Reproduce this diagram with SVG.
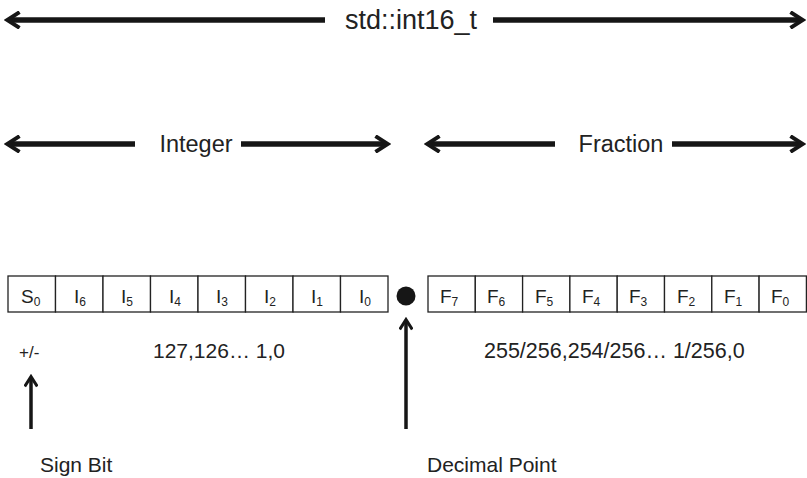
<svg xmlns="http://www.w3.org/2000/svg" width="807" height="478" viewBox="0 0 807 478">
<style>
text{font-family:"Liberation Sans",Arial,sans-serif;fill:#222;}
.title{font-size:27px;}
.big{font-size:23.5px;}
.mid{font-size:21px;}
.box{fill:#fff;stroke:#222;stroke-width:1.3;}
.bl{font-size:19px;}
.sub{font-size:12px;}
.thick{stroke:#161616;stroke-width:5.5;fill:none;}
.thin{stroke:#161616;stroke-width:3.5;fill:none;}
</style>
<defs>
<marker id="ah" viewBox="0 0 10 10" refX="7" refY="5" markerWidth="3.2" markerHeight="3.2" orient="auto-start-reverse" markerUnits="strokeWidth">
<path d="M1,0.5 L8,5 L1,9.5" fill="none" stroke="#161616" stroke-width="2.2"/>
</marker>
<marker id="ah2" viewBox="0 0 10 10" refX="7" refY="5" markerWidth="4" markerHeight="4" orient="auto-start-reverse" markerUnits="strokeWidth">
<path d="M1,0.5 L8,5 L1,9.5" fill="none" stroke="#161616" stroke-width="2.2"/>
</marker>
</defs>
<g id="connectors">
<line class="thick" x1="9" y1="20" x2="325" y2="20" marker-start="url(#ah)"/>
<line class="thick" x1="493" y1="20" x2="801" y2="20" marker-end="url(#ah)"/>
<line class="thick" x1="9" y1="144" x2="135" y2="144" marker-start="url(#ah)"/>
<line class="thick" x1="241" y1="144" x2="386" y2="144" marker-end="url(#ah)"/>
<line class="thick" x1="429" y1="144" x2="555" y2="144" marker-start="url(#ah)"/>
<line class="thick" x1="672" y1="144" x2="801" y2="144" marker-end="url(#ah)"/>
<line class="thin" x1="31" y1="429" x2="31" y2="378" marker-end="url(#ah2)"/>
<line class="thin" x1="406" y1="429" x2="406" y2="321" marker-end="url(#ah2)"/>
</g>
<g id="title"><text class="title" x="411" y="29" text-anchor="middle">std::int16_t</text></g>
<g id="integer-label"><text class="big" x="196" y="152" text-anchor="middle">Integer</text></g>
<g id="fraction-label"><text class="big" x="621" y="152" text-anchor="middle">Fraction</text></g>
<g id="integer-bits">
<rect class="box" x="8" y="276" width="47.5" height="36"/>
<rect class="box" x="55.5" y="276" width="47.5" height="36"/>
<rect class="box" x="103" y="276" width="47.5" height="36"/>
<rect class="box" x="150.5" y="276" width="47.5" height="36"/>
<rect class="box" x="198" y="276" width="47.5" height="36"/>
<rect class="box" x="245.5" y="276" width="47.5" height="36"/>
<rect class="box" x="293" y="276" width="47.5" height="36"/>
<rect class="box" x="340.5" y="276" width="47.5" height="36"/>
<text class="bl" x="21" y="303">S<tspan class="sub" dy="3">0</tspan></text>
<text class="bl" x="74" y="303">I<tspan class="sub" dy="3">6</tspan></text>
<text class="bl" x="121" y="303">I<tspan class="sub" dy="3">5</tspan></text>
<text class="bl" x="169" y="303">I<tspan class="sub" dy="3">4</tspan></text>
<text class="bl" x="216" y="303">I<tspan class="sub" dy="3">3</tspan></text>
<text class="bl" x="264" y="303">I<tspan class="sub" dy="3">2</tspan></text>
<text class="bl" x="311" y="303">I<tspan class="sub" dy="3">1</tspan></text>
<text class="bl" x="359" y="303">I<tspan class="sub" dy="3">0</tspan></text>
</g>
<g id="decimal-point"><circle cx="406" cy="296" r="9.5" fill="#161616"/></g>
<g id="fraction-bits">
<rect class="box" x="428" y="276" width="47.3" height="36"/>
<rect class="box" x="475.3" y="276" width="47.3" height="36"/>
<rect class="box" x="522.6" y="276" width="47.3" height="36"/>
<rect class="box" x="569.9" y="276" width="47.3" height="36"/>
<rect class="box" x="617.2" y="276" width="47.3" height="36"/>
<rect class="box" x="664.5" y="276" width="47.3" height="36"/>
<rect class="box" x="711.8" y="276" width="47.3" height="36"/>
<rect class="box" x="759.1" y="276" width="47.3" height="36"/>
<text class="bl" x="440" y="303">F<tspan class="sub" dy="3">7</tspan></text>
<text class="bl" x="487" y="303">F<tspan class="sub" dy="3">6</tspan></text>
<text class="bl" x="535" y="303">F<tspan class="sub" dy="3">5</tspan></text>
<text class="bl" x="582" y="303">F<tspan class="sub" dy="3">4</tspan></text>
<text class="bl" x="629" y="303">F<tspan class="sub" dy="3">3</tspan></text>
<text class="bl" x="677" y="303">F<tspan class="sub" dy="3">2</tspan></text>
<text class="bl" x="724" y="303">F<tspan class="sub" dy="3">1</tspan></text>
<text class="bl" x="771" y="303">F<tspan class="sub" dy="3">0</tspan></text>
</g>
<g id="sign-range"><text x="19" y="358" style="font-size:17px">+/-</text></g>
<g id="integer-range"><text class="mid" x="153" y="358">127,126… 1,0</text></g>
<g id="fraction-range"><text class="mid" x="484" y="358" style="font-size:21.5px">255/256,254/256… 1/256,0</text></g>
<g id="sign-bit"><text class="mid" x="40" y="472">Sign Bit</text></g>
<g id="decimal-label"><text class="mid" x="427" y="472">Decimal Point</text></g>
</svg>
